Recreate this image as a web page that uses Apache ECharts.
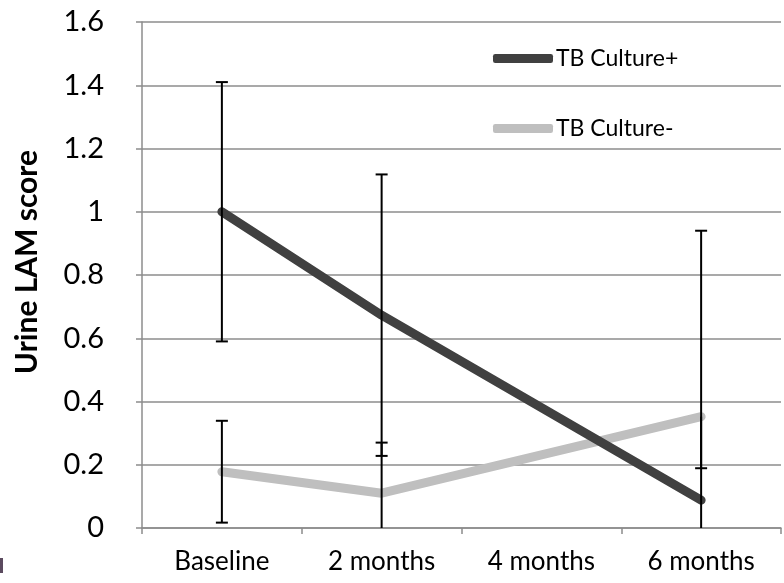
<!DOCTYPE html>
<html>
<head>
<meta charset="utf-8">
<script src="https://cdn.jsdelivr.net/npm/echarts@6/dist/echarts.min.js"></script>
<style>
  html, body { margin: 0; padding: 0; background: #ffffff; }
  #chart { width: 784px; height: 583px; }
</style>
</head>
<body>
<div id="chart"></div>
<script>
// Time points of the follow-up
var categories = ['Baseline', '2 months', '4 months', '6 months'];

// Mean urine LAM score per group (null = no measurement at that visit)
var culturePos = [1.0, 0.673, null, 0.088];
var cultureNeg = [0.178, 0.11, null, 0.352];

// Error bar extents (upper / lower) per group
var culturePosErrUp = [0.41, 0.445, null, 0.852];
var culturePosErrDown = [0.41, 0.445, null, 0.852];
var cultureNegErrUp = [0.161, 0.16, null, 0];
var cultureNegErrDown = [0.161, 0.16, null, 0.163];

// Y axis ticks
var yMin = 0, yMax = 1.6, yStep = 0.2;

var FONT = 'Lato, "Open Sans", sans-serif';
var GRID_COLOR = '#8c8c8c';

function errorData(means, up, down) {
  var out = [];
  for (var i = 0; i < means.length; i++) {
    if (means[i] == null) continue;
    out.push([i, means[i] - down[i], means[i] + up[i], down[i] > 0 ? 1 : 0, up[i] > 0 ? 1 : 0]);
  }
  return out;
}

function renderErrorBar(params, api) {
  var x = api.value(0);
  var lo = api.coord([x, api.value(1)]);
  var hi = api.coord([x, api.value(2)]);
  var half = 6;
  var children = [{
    type: 'line',
    shape: { x1: lo[0], y1: lo[1], x2: hi[0], y2: hi[1] },
    style: { stroke: '#000', lineWidth: 2 }
  }];
  if (api.value(3)) {
    children.push({ type: 'line', shape: { x1: lo[0] - half, y1: lo[1], x2: lo[0] + half, y2: lo[1] }, style: { stroke: '#000', lineWidth: 2 } });
  }
  if (api.value(4)) {
    children.push({ type: 'line', shape: { x1: hi[0] - half, y1: hi[1], x2: hi[0] + half, y2: hi[1] }, style: { stroke: '#000', lineWidth: 2 } });
  }
  return { type: 'group', children: children };
}

var chart = echarts.init(document.getElementById('chart'), null, { renderer: 'canvas' });

chart.setOption({
  animation: false,
  backgroundColor: '#ffffff',
  grid: { left: 142, right: 3, top: 22, bottom: 55, containLabel: false },
  legend: {
    orient: 'vertical',
    left: 493,
    top: 47,
    padding: 0,
    itemWidth: 60,
    itemHeight: 9,
    itemGap: 47,
    icon: 'roundRect',
    textStyle: { fontFamily: FONT, fontSize: 23, color: '#000', padding: [0, 0, 0, -2] },
    data: ['TB Culture+', 'TB Culture-']
  },
  xAxis: {
    type: 'category',
    data: categories,
    boundaryGap: true,
    axisLine: { show: true, lineStyle: { color: GRID_COLOR, width: 1.5 } },
    axisTick: { show: true, length: 6, lineStyle: { color: GRID_COLOR, width: 1.5 } },
    axisLabel: { fontFamily: FONT, fontSize: 26, color: '#000', margin: 21 },
    splitLine: { show: false }
  },
  yAxis: {
    type: 'value',
    min: yMin,
    max: yMax,
    interval: yStep,
    name: 'Urine LAM score',
    nameLocation: 'middle',
    nameGap: 100,
    nameTextStyle: { fontFamily: FONT, fontSize: 30, fontWeight: 'bold', color: '#000', padding: [0, 0, 0, 26] },
    axisLine: { show: true, lineStyle: { color: GRID_COLOR, width: 1.5 } },
    axisTick: { show: true, length: 6, lineStyle: { color: GRID_COLOR, width: 1.5 } },
    axisLabel: { fontFamily: FONT, fontSize: 29, color: '#000', margin: 38 },
    splitLine: { show: true, lineStyle: { color: GRID_COLOR, width: 1.5 } }
  },
  series: [
    {
      name: 'TB Culture+',
      type: 'line',
      data: culturePos,
      connectNulls: true,
      showSymbol: false,
      symbol: 'none',
      color: '#404040',
      lineStyle: { color: '#404040', width: 9, cap: 'round', join: 'round' },
      z: 3
    },
    {
      name: 'TB Culture-',
      type: 'line',
      data: cultureNeg,
      connectNulls: true,
      showSymbol: false,
      symbol: 'none',
      color: '#bfbfbf',
      lineStyle: { color: '#bfbfbf', width: 9, cap: 'round', join: 'round' },
      z: 2
    },
    {
      type: 'custom',
      renderItem: renderErrorBar,
      data: errorData(culturePos, culturePosErrUp, culturePosErrDown),
      encode: { x: 0, y: [1, 2] },
      clip: true,
      silent: true,
      z: 5
    },
    {
      type: 'custom',
      renderItem: renderErrorBar,
      data: errorData(cultureNeg, cultureNegErrUp, cultureNegErrDown),
      encode: { x: 0, y: [1, 2] },
      clip: true,
      silent: true,
      z: 5
    }
  ],
  graphic: [
    { type: 'rect', left: 0, top: 558, shape: { width: 3, height: 15 }, style: { fill: '#5b4a5f' } }
  ]
});
</script>
</body>
</html>
